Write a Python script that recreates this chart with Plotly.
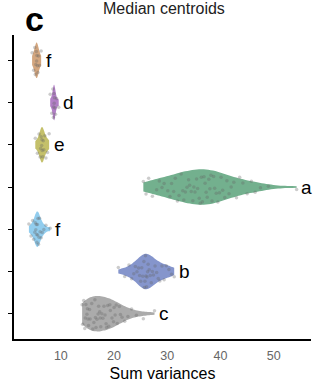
import plotly.graph_objects as go

# Groups, bottom to top
labels = ["c", "b", "f", "a", "e", "d", "f"]
colors = ["#ababab", "#8595cc", "#92cdee", "#73b08e", "#c4c06a", "#b27fc6", "#d3a67f"]

c_vals = [14.0, 14.1, 14.3, 14.5, 14.6, 14.9, 15.1, 15.2, 15.4, 15.5, 15.8, 16.0, 16.2,
          16.4, 16.6, 16.8, 17.0, 17.1, 17.3, 17.5, 17.7, 17.9, 18.1, 18.3, 18.5, 18.8,
          19.0, 19.3, 19.6, 19.9, 20.2, 20.6, 21.0, 21.5, 22.0, 22.6, 23.3, 24.2, 25.5,
          27.6, 14.7, 15.0, 16.5, 17.4, 18.6, 20.0, 21.2, 19.2, 20.4]
b_vals = [20.8, 22.0, 22.8, 23.3, 23.7, 24.0, 24.3, 24.6, 24.8, 25.0, 25.2, 25.4, 25.6,
          25.7, 25.9, 26.0, 26.1, 26.3, 26.4, 26.6, 26.8, 27.0, 27.2, 27.4, 27.7, 28.0,
          28.3, 28.6, 29.0, 29.4, 29.8, 30.3, 30.8, 31.3, 25.8, 26.2]
f2_vals = [4.0, 4.4, 4.7, 4.9, 5.1, 5.2, 5.3, 5.4, 5.5, 5.6, 5.7, 5.8, 5.9, 6.0, 6.1,
           6.3, 6.5, 6.8, 7.2, 8.0, 5.45, 5.65]
a_vals = [25.5, 26.0, 26.5, 27.2, 28.0, 28.5, 29.0, 29.4, 30.1, 30.5, 30.8, 31.2, 31.5,
          31.9, 32.2, 32.6, 32.9, 33.1, 33.4, 33.7, 34.0, 34.2, 34.5, 34.8, 35.0, 35.2,
          35.5, 35.7, 36.0, 36.2, 36.4, 36.6, 36.9, 37.1, 37.3, 37.5, 37.8, 38.0, 38.2,
          38.4, 38.7, 38.9, 39.2, 39.5, 39.8, 40.1, 40.4, 40.8, 41.2, 41.6, 42.0, 42.5,
          43.0, 43.6, 44.2, 45.0, 45.8, 46.5, 47.5, 49.0, 54.3]
e_vals = [5.2, 5.6, 5.9, 6.1, 6.2, 6.3, 6.4, 6.5, 6.6, 6.7, 6.8, 7.0, 7.2, 7.5, 7.8, 6.45]
d_vals = [8.0, 8.3, 8.5, 8.6, 8.7, 8.75, 8.8, 8.9, 9.0, 9.2, 9.6, 8.65]
f1_vals = [4.6, 4.9, 5.1, 5.2, 5.3, 5.4, 5.5, 5.6, 5.7, 5.8, 6.0, 6.3, 5.45]

groups = [c_vals, b_vals, f2_vals, a_vals, e_vals, d_vals, f1_vals]
xticks = [10, 20, 30, 40, 50]

fig = go.Figure()
for i, (vals, col) in enumerate(zip(groups, colors)):
    fig.add_trace(go.Violin(
        x=vals, y0=i, orientation="h",
        fillcolor=col, line=dict(width=0, color=col), opacity=1,
        points="all", pointpos=0, jitter=1,
        marker=dict(size=3.5, color="rgba(100,100,100,0.33)", line=dict(width=0)),
        box=dict(visible=False), meanline=dict(visible=False),
        spanmode="hard", width=0.84, scalemode="width",
        showlegend=False, hoverinfo="skip",
    ))
    fig.add_annotation(x=max(vals) + 0.5, y=i, text=labels[i], showarrow=False,
                       xanchor="left", yanchor="middle",
                       font=dict(size=19, color="black", family="Liberation Sans"))

fig.add_annotation(x=166 / 328, y=1, xref="paper", yref="paper", yanchor="middle",
                   yshift=27, text="Median centroids", showarrow=False,
                   font=dict(size=16, color="#222", family="Liberation Sans"))
fig.add_annotation(x=0.03, y=1, xref="paper", yref="paper", yshift=16,
                   xanchor="left", yanchor="middle", text="<b>c</b>", showarrow=False,
                   font=dict(size=34, color="black", family="Liberation Sans"))

fig.update_layout(
    width=328, height=391,
    margin=dict(l=10, r=17, t=35, b=52),
    paper_bgcolor="white", plot_bgcolor="white",
    font=dict(family="Liberation Sans"),
    xaxis=dict(range=[1.2, 57], tickvals=xticks, ticks="", showgrid=False, zeroline=False,
               showline=True, linecolor="black", linewidth=1.5, ticklabelstandoff=4,
               tickfont=dict(size=12.5, color="#666"),
               title=dict(text="Sum variances", font=dict(size=16, color="black"), standoff=6)),
    yaxis=dict(range=[-0.6, 6.6], tickvals=list(range(7)), showticklabels=False,
               ticks="outside", ticklen=4, tickcolor="black", showgrid=False, zeroline=False,
               showline=True, linecolor="black", linewidth=1.5),
)
fig.write_html("out.html")
